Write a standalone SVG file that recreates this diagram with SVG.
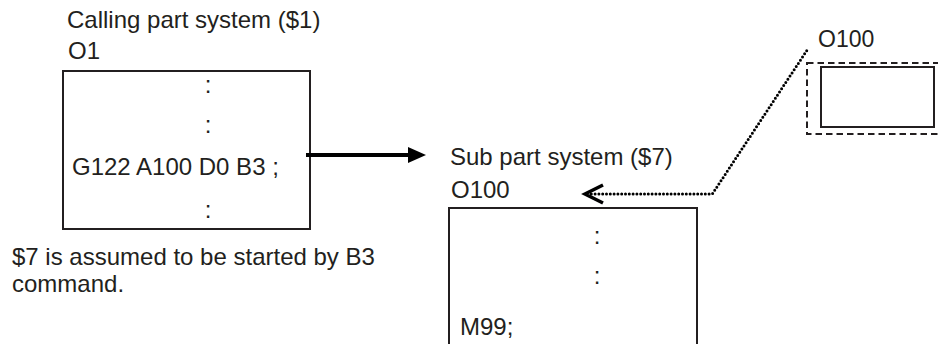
<svg xmlns="http://www.w3.org/2000/svg" width="938" height="344" viewBox="0 0 938 344">
<style>
text{font-family:"Liberation Sans",Arial,sans-serif;font-size:24px;fill:#231f20}
.mid{text-anchor:middle}
.box{fill:none;stroke:#231f20;stroke-width:2}
.dash{fill:none;stroke:#231f20;stroke-width:2;stroke-dasharray:6.5 4}
.dot{fill:none;stroke:#000;stroke-width:3;stroke-linecap:round;stroke-dasharray:0 3.8}
</style>
<rect width="938" height="344" fill="#fff"/>
<g id="calling">
<text x="67" y="28">Calling part system ($1)</text>
<text x="68" y="59">O1</text>
<rect class="box" x="63" y="71" width="247" height="158"/>
<text class="mid" x="208" y="93">:</text>
<text class="mid" x="208" y="133">:</text>
<text x="72" y="175">G122 A100 D0 B3 ;</text>
<text class="mid" x="208" y="218">:</text>
</g>
<g id="note">
<text x="12" y="265">$7 is assumed to be started by B3</text>
<text x="12" y="292">command.</text>
</g>
<g id="sub">
<text x="450" y="165">Sub part system ($7)</text>
<text x="451" y="198">O100</text>
<rect class="box" x="449" y="208" width="248" height="150"/>
<text class="mid" x="597" y="244">:</text>
<text class="mid" x="597" y="284">:</text>
<text x="460" y="335">M99;</text>
</g>
<g id="o100">
<text x="818" y="47" style="font-size:23px">O100</text>
<rect class="dash" x="807" y="63" width="140" height="71"/>
<rect class="box" x="821" y="67" width="113" height="60"/>
</g>
<g id="connectors">
<line x1="306" y1="155" x2="410" y2="155" stroke="#000" stroke-width="4"/>
<polygon points="426,155 408,147 408,163" fill="#000"/>
<polyline class="dot" points="806.7,50.7 712.3,194 590,194"/>
<polyline points="603,185 585,194 603,203" fill="none" stroke="#000" stroke-width="3.5"/>
</g>
</svg>
